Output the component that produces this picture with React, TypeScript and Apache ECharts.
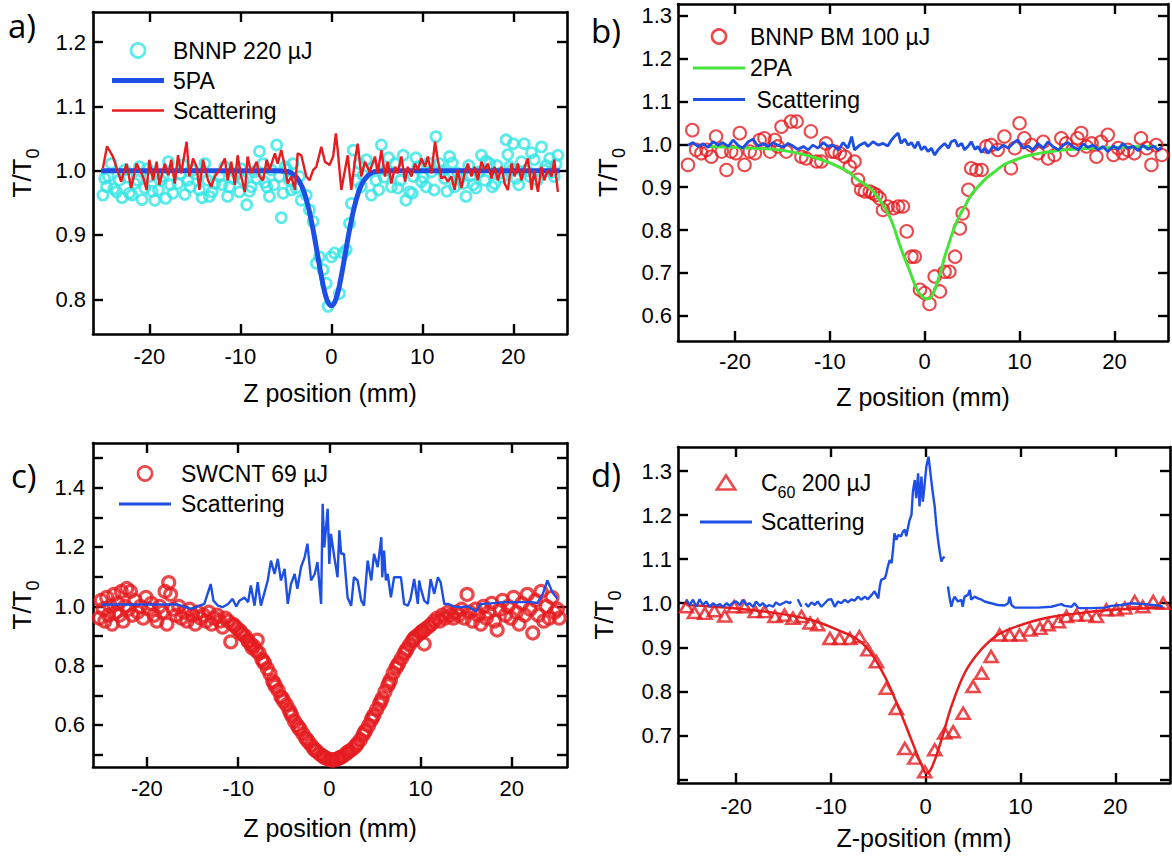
import React, { useEffect, useRef } from "react";
import * as echarts from "echarts";

const FONT = '"Liberation Sans", Arial, Helvetica, sans-serif';
const CYAN = "#33e5e5";
const BLUE = "#1d4fe4";
const RED = "#e61c1f";
const GREEN = "#46e33a";

// ---------- tick values ----------
const xTickValues = [-20, -10, 0, 10, 20];
const aYTickValues = [0.8, 0.9, 1.0, 1.1, 1.2];
const bYTickValues = [0.6, 0.7, 0.8, 0.9, 1.0, 1.1, 1.2, 1.3];
const cYTickValues = [0.5, 0.6, 0.7, 0.8, 0.9, 1.0, 1.1, 1.2, 1.3, 1.4, 1.5];
const cYLabelValues = [0.6, 0.8, 1.0, 1.2, 1.4];
const dYTickValues = [0.6, 0.7, 0.8, 0.9, 1.0, 1.1, 1.2, 1.3];
const dYLabelValues = [0.7, 0.8, 0.9, 1.0, 1.1, 1.2, 1.3];

// ---------- panel a ----------
const aBnnp: number[][] = [
  [-25.1,0.962],[-24.7,0.975],[-24.5,0.991],[-24.2,1.011],[-23.6,0.967],[-23.3,0.985],[-22.7,1.001],[-22.2,0.965],[-21.6,0.980],[-21.1,1.006],
  [-20.5,0.973],[-20.0,0.991],[-19.4,0.954],[-19.0,0.970],[-18.5,0.991],[-17.9,1.014],[-17.4,0.965],[-16.85,0.980],[-16.3,1.009],[-15.75,0.985],
  [-15.2,1.001],[-14.5,0.970],[-13.9,1.011],[-13.4,0.960],[-12.8,0.980],[-12.3,0.991],[-11.7,1.006],[-11.2,0.975],[-10.4,0.996],[-10.1,0.967],
  [-9.7,0.985],[-9.3,0.947],[-8.8,0.975],[-8.2,0.988],[-7.9,1.030],[-7.5,1.011],[-7.1,0.975],[-6.6,1.001],[-6.0,1.040],[-5.7,0.991],
  [-5.5,0.927],[-5.1,1.006],[-4.6,0.985],[-4.2,1.011],[-3.85,0.973],[-3.5,0.991],[-3.3,0.954],[-2.75,0.962],[-2.4,0.939],[-2.0,0.921],
  [-1.65,0.856],[-1.3,0.866],[-0.9,0.846],[-0.55,0.825],[-0.35,0.789],[0.0,0.866],[0.35,0.872],[0.9,0.809],[1.3,0.872],[1.65,0.877],
  [2.0,0.918],[2.2,0.949],[2.4,1.032],[2.75,0.985],[3.1,1.011],[3.5,0.993],[3.85,1.017],[4.4,0.962],[4.9,0.985],[5.5,1.040],
  [6.0,1.001],[6.6,0.975],[7.0,1.011],[7.3,0.973],[7.9,1.024],[8.2,0.954],[8.6,0.967],[9.0,0.991],[9.5,1.006],[9.9,0.983],
  [10.4,0.975],[11.0,0.998],[11.5,1.053],[11.9,1.011],[12.45,0.988],[13.0,1.022],[13.55,0.975],[13.9,0.996],[14.5,0.980],[14.8,0.960],
  [15.4,0.993],[15.9,0.973],[16.5,1.024],[16.85,0.985],[17.4,1.011],[17.95,0.980],[18.5,0.996],[19.2,1.048],[19.6,1.006],[20.0,1.042],
  [20.3,0.988],[20.9,1.014],[21.2,1.042],[21.8,0.991],[22.3,1.017],[23.1,1.037],[23.4,1.001],[24.0,1.019],[24.5,0.991],[24.9,1.024],
  [-24.9,0.988],[-23.9,0.972],[-23.0,0.958],[-22.4,0.990],[-21.9,0.962],[-21.3,0.985],[-20.8,0.955],[-20.2,1.003],[-19.7,0.968],[-18.8,0.985],
  [-18.2,0.957],[-17.7,0.978],[-16.6,0.995],[-16.1,0.963],[-15.5,0.975],[-14.9,0.995],[-14.2,0.958],[-13.6,0.985],[-13.1,0.967],[-12.0,0.978],
  [-11.4,0.960],[-10.8,0.988],[-9.9,1.003],[-9.0,0.968],[-8.5,0.998],[-7.3,0.982],[-6.8,0.960],[-6.3,0.978],[-5.3,0.965],[-4.9,1.002],
  [-4.4,0.970],[3.3,0.975],[4.6,1.005],[5.2,0.970],[5.8,0.990],[6.3,1.020],[7.6,0.985],[8.9,0.965],[9.3,1.020],[10.1,0.990],
  [10.7,1.012],[11.3,0.970],[12.2,1.000],[12.7,0.968],[13.3,1.012],[14.1,0.988],[15.1,1.008],[15.6,0.978],[16.2,0.998],[17.0,1.015],
  [17.7,0.975],[18.2,1.008],[18.8,0.990],[19.4,1.025],[19.9,1.002],[20.6,0.978],[21.5,1.000],[22.0,1.028],[22.6,0.985],[23.6,1.008],
  [24.2,0.998],[24.7,1.010],
];
const a5PA: number[][] = [
  [-25.3,1.0],[-6,1.0],[-5,0.999],[-4.5,0.997],[-4,0.992],[-3.5,0.983],[-3,0.967],[-2.5,0.942],[-2,0.908],[-1.5,0.868],
  [-1,0.829],[-0.5,0.8],[0,0.79],[0.5,0.8],[1,0.829],[1.5,0.868],[2,0.908],[2.5,0.942],[3,0.967],[3.5,0.983],
  [4,0.992],[4.5,0.997],[5,0.999],[6,1.0],[25.1,1.0],
];
const aScattering: number[][] = [
  [-25.1,1.004],[-24.65,1.038],[-24.0,1.022],[-23.1,0.983],[-22.5,1.011],[-22.0,0.973],[-21.4,1.011],[-20.7,0.991],[-20.3,0.970],[-20.0,1.017],
  [-19.6,0.985],[-19.2,1.014],[-18.9,0.978],[-18.3,1.011],[-17.9,0.993],[-17.6,1.017],[-17.2,0.980],[-16.85,1.024],[-16.5,0.996],[-15.9,1.045],
  [-15.6,0.991],[-15.2,1.019],[-14.8,1.006],[-14.5,0.970],[-14.1,1.017],[-13.55,0.985],[-13.2,0.975],[-12.8,0.991],[-12.3,1.001],[-11.7,1.019],
  [-11.4,0.985],[-11.0,1.014],[-10.6,0.978],[-10.3,1.024],[-9.9,0.991],[-9.5,0.967],[-9.2,1.022],[-8.8,0.996],[-8.2,1.014],[-7.9,0.991],
  [-7.5,0.985],[-7.1,1.017],[-6.8,1.001],[-6.2,1.027],[-5.9,1.011],[-5.5,1.032],[-5.1,1.006],[-4.8,0.980],[-4.4,0.991],[-4.0,0.970],
  [-3.7,1.027],[-3.3,1.024],[-2.75,0.991],[-2.4,0.985],[-2.0,1.001],[-1.65,1.006],[-1.1,1.037],[-0.7,1.014],[-0.2,1.009],[0.2,1.022],
  [0.5,1.058],[0.7,1.032],[1.1,0.970],[1.5,1.001],[1.8,1.024],[2.2,0.970],[2.6,1.017],[2.9,1.042],[3.3,0.991],[3.7,1.014],
  [4.2,0.998],[4.8,1.022],[5.1,0.996],[5.5,1.032],[5.9,0.991],[6.2,1.014],[6.6,0.980],[7.0,1.006],[7.3,0.996],[7.7,1.022],
  [8.1,0.983],[8.4,1.006],[8.8,0.991],[9.2,1.011],[9.5,1.001],[9.9,1.019],[10.3,1.006],[10.6,1.022],[11.0,0.996],[11.4,1.045],
  [11.7,1.017],[12.1,0.988],[12.45,0.991],[12.8,0.983],[13.2,0.991],[13.55,0.970],[13.9,1.001],[14.3,0.973],[14.65,0.996],[15.0,1.011],
  [15.4,0.991],[15.75,1.006],[16.1,0.985],[16.5,1.014],[16.85,1.001],[17.2,1.011],[17.6,0.988],[17.95,1.006],[18.3,0.985],[18.7,1.006],
  [19.05,0.980],[19.4,0.970],[19.8,1.011],[20.15,0.991],[20.5,1.011],[20.9,0.985],[21.25,1.006],[21.6,1.019],[22.0,0.970],[22.3,1.001],
  [22.7,0.967],[23.1,1.006],[23.4,0.985],[23.8,1.001],[24.2,0.991],[24.5,1.017],[24.9,0.967],
];

// ---------- panel b ----------
const bBnnpBm: number[][] = [
  [-24.96,0.952],[-24.5,1.033],[-24.1,0.987],[-23.55,0.979],[-23.0,0.987],[-22.5,0.971],[-22.0,1.018],[-21.4,0.983],[-20.9,0.940],[-20.4,0.983],
  [-19.9,0.979],[-19.5,1.026],[-19.0,0.952],[-18.45,0.983],[-17.9,0.979],[-17.4,1.010],[-16.9,1.014],[-16.3,0.983],[-15.8,1.010],[-15.5,0.995],
  [-15.1,1.041],[-14.6,0.983],[-14.1,1.053],[-13.5,1.053],[-13.0,0.971],[-12.5,0.967],[-12.0,1.030],[-11.4,0.960],[-10.9,0.960],[-10.4,1.002],
  [-9.8,0.983],[-9.5,0.983],[-8.96,0.979],[-8.4,0.971],[-7.9,0.948],[-7.4,0.960],[-7.03,0.917],[-6.7,0.894],[-6.3,0.890],[-5.8,0.890],
  [-5.45,0.886],[-5.1,0.882],[-4.75,0.874],[-4.4,0.847],[-3.9,0.855],[-3.3,0.851],[-2.8,0.855],[-2.3,0.855],[-1.9,0.797],[-1.4,0.738],
  [-1.05,0.738],[-0.5,0.661],[0.0,0.653],[0.5,0.628],[1.05,0.692],[1.6,0.657],[2.1,0.703],[2.6,0.703],[3.2,0.738],[3.7,0.804],
  [4.0,0.839],[4.6,0.894],[4.9,0.944],[5.45,0.940],[6.0,0.940],[6.5,0.995],[7.0,0.998],[7.7,0.987],[8.4,1.018],[9.1,0.944],
  [9.5,0.991],[10.0,1.049],[10.5,1.014],[11.25,0.998],[11.95,0.979],[12.5,1.006],[13.0,0.967],[13.7,0.975],[14.4,1.014],[14.9,1.002],
  [15.6,0.987],[16.1,1.014],[16.5,1.026],[17.05,0.995],[17.6,1.002],[18.1,0.971],[18.6,1.006],[19.3,1.022],[19.9,0.975],[20.4,0.991],
  [20.9,0.979],[21.4,0.987],[22.1,0.979],[22.8,1.014],[23.4,0.991],[23.9,0.952],[24.4,0.998],[25.0,0.975],
];
const b2PA: number[][] = [
  [-22.85,0.995],[-20,0.993],[-18,0.991],[-15.47,0.987],[-13.5,0.98],[-11.95,0.971],[-10.5,0.961],[-9.14,0.948],[-8,0.935],[-7.03,0.917],
  [-6,0.902],[-5.27,0.886],[-4.5,0.862],[-3.87,0.839],[-3.3,0.81],[-2.81,0.777],[-2.3,0.745],[-1.76,0.715],[-1.3,0.688],[-0.88,0.664],
  [-0.4,0.648],[0,0.641],[0.35,0.64],[0.7,0.645],[1.05,0.66],[1.41,0.684],[1.75,0.708],[2.11,0.738],[2.6,0.772],[3.16,0.808],
  [3.7,0.835],[4.22,0.855],[4.9,0.882],[5.62,0.901],[6.5,0.921],[7.38,0.936],[8.2,0.95],[9.14,0.96],[10.2,0.969],[11.25,0.975],
  [12.3,0.98],[13.36,0.983],[14.76,0.987],[18,0.991],[22,0.994],[24.5,0.995],
];
const bScattering: number[][] = [
  [-24.96,0.998],[-24.43,1.004],[-23.9,0.995],[-23.37,1.001],[-22.85,0.993],[-22.3,1.006],[-21.8,0.998],[-21.3,1.004],[-20.7,0.995],[-20.2,1.010],
  [-19.7,0.998],[-19.2,0.991],[-18.6,1.006],[-18.1,1.012],[-17.6,0.996],[-17.05,1.002],[-16.5,0.995],[-16.0,1.004],[-15.5,0.998],[-14.9,0.993],
  [-14.4,1.002],[-13.9,0.996],[-13.4,0.988],[-12.8,0.995],[-12.3,0.987],[-11.8,0.998],[-11.25,0.991],[-10.7,1.004],[-10.2,0.995],[-9.7,0.998],
  [-9.1,0.987],[-8.6,1.004],[-8.1,0.991],[-7.7,1.018],[-7.4,0.987],[-6.85,0.998],[-6.3,1.004],[-6.0,0.995],[-5.45,1.006],[-4.9,0.998],
  [-4.4,1.002],[-3.9,0.996],[-3.5,1.010],[-3.2,1.018],[-2.8,1.026],[-2.5,1.002],[-2.1,1.012],[-1.75,0.998],[-1.4,1.004],[-1.05,0.991],
  [-0.7,1.006],[-0.35,0.987],[0,0.995],[0.35,0.983],[0.7,0.991],[1.05,0.975],[1.4,0.987],[1.75,0.995],[2.1,1.002],[2.5,0.991],
  [2.8,1.006],[3.2,1.010],[3.5,0.995],[3.9,1.002],[4.2,0.987],[4.6,0.996],[4.9,1.006],[5.3,0.988],[5.6,0.995],[6.0,0.981],
  [6.3,0.991],[6.7,0.979],[7.2,0.995],[7.7,0.987],[8.3,0.998],[8.8,0.991],[9.3,1.002],[9.8,1.010],[10.4,0.991],[10.9,0.996],
  [11.4,0.987],[11.95,1.002],[12.5,0.991],[13.0,1.006],[13.5,0.995],[14.1,0.987],[14.6,0.998],[15.1,1.004],[15.6,0.995],[16.2,0.987],
  [16.7,1.001],[17.2,0.993],[17.75,0.998],[18.3,0.987],[18.8,0.995],[19.3,0.983],[19.9,0.996],[20.4,0.988],[20.9,1.002],[21.4,0.991],
  [22.0,0.995],[22.5,0.985],[23.0,0.998],[23.55,0.988],[24.1,0.996],[24.6,0.987],[24.96,0.993],
];

// ---------- panel c ----------
const cSwcnt: number[][] = [
  [-25.2,0.96],[-25.0,1.02],[-24.8,0.99],[-24.6,0.95],[-24.4,1.03],[-24.2,0.97],[-24.0,1.00],[-23.8,0.94],[-23.6,1.04],[-23.4,0.98],
  [-23.2,1.01],[-23.0,0.97],[-22.8,1.05],[-22.6,0.95],[-22.4,1.00],[-22.2,1.06],[-22.0,0.99],[-21.8,1.05],[-21.6,0.97],[-21.3,1.02],
  [-21.0,0.98],[-20.7,1.00],[-20.4,0.96],[-20.1,1.03],[-19.8,0.99],[-19.5,1.01],[-19.2,0.97],[-18.9,0.95],[-18.6,1.00],[-18.3,0.98],
  [-18.0,1.05],[-17.8,0.94],[-17.6,1.08],[-17.4,1.04],[-17.1,0.99],[-16.8,0.97],[-16.5,1.00],[-16.2,0.96],[-15.9,0.98],[-15.6,0.95],
  [-15.3,0.99],[-15.0,0.97],[-14.7,0.94],[-14.4,0.98],[-14.1,0.96],[-13.8,0.97],[-13.5,0.95],[-13.2,0.98],[-12.9,0.94],[-12.6,0.96],
  [-12.3,0.97],[-12.0,0.95],[-11.7,0.93],[-11.4,0.96],[-11.1,0.95],[-10.8,0.88],[-10.6,0.94],
  [-10.4,0.935],[-10.1,0.925],[-9.8,0.918],[-9.5,0.905],[-9.2,0.899],[-8.9,0.882],[-8.6,0.872],[-8.3,0.866],[-8.0,0.850],[-7.7,0.842],
  [-7.4,0.822],[-7.1,0.808],[-6.8,0.790],[-6.5,0.772],[-6.2,0.748],[-5.9,0.730],[-5.6,0.716],[-5.3,0.695],[-5.0,0.680],[-4.7,0.668],
  [-4.4,0.650],[-4.1,0.630],[-3.8,0.612],[-3.5,0.598],[-3.2,0.585],[-2.9,0.570],[-2.6,0.556],[-2.3,0.543],[-2.0,0.532],[-1.7,0.520],
  [-1.4,0.512],[-1.1,0.503],[-0.8,0.497],[-0.5,0.490],[-0.2,0.486],[0.1,0.483],[0.4,0.481],[0.7,0.483],[1.0,0.487],[1.3,0.491],
  [1.6,0.497],[1.9,0.505],[2.2,0.512],[2.5,0.518],[2.8,0.526],[3.1,0.538],[3.4,0.550],[3.7,0.566],[4.0,0.582],[4.3,0.598],
  [4.6,0.616],[4.9,0.634],[5.2,0.652],[5.5,0.670],[5.8,0.690],[6.1,0.712],[6.4,0.732],[6.7,0.752],[7.0,0.775],[7.3,0.792],
  [7.6,0.808],[7.9,0.824],[8.2,0.840],[8.5,0.856],[8.8,0.870],[9.1,0.884],[9.4,0.895],[9.7,0.903],[10.0,0.910],[10.3,0.918],
  [10.6,0.925],[10.9,0.932],
  [-9.65,0.91],[-8.45,0.86],[-7.25,0.815],[-6.05,0.74],[-5.15,0.69],[-4.25,0.64],[-3.35,0.59],[-2.45,0.55],[-1.55,0.515],[-0.65,0.493],
  [0.25,0.483],[1.15,0.49],[2.05,0.508],[2.95,0.532],[3.85,0.575],[4.75,0.626],[5.65,0.68],[6.55,0.742],[7.45,0.8],[8.35,0.848],
  [9.25,0.89],[10.15,0.915],[-8.9,0.884],[-7.9,0.886],[10.4,0.873],
  [11.2,0.94],[11.5,0.95],[11.8,0.96],[12.1,0.95],[12.4,0.97],[12.7,0.96],[13.0,0.98],[13.3,0.97],[13.6,0.96],[13.9,0.98],
  [14.2,0.97],[14.5,0.99],[14.8,0.96],[15.1,1.04],[15.4,0.98],[15.7,0.95],[16.0,0.99],[16.3,0.97],[16.6,0.94],[16.9,1.00],
  [17.2,0.96],[17.5,0.98],[17.8,1.01],[18.1,0.95],[18.4,0.92],[18.7,0.99],[19.0,1.02],[19.3,0.97],[19.6,1.00],[19.9,0.96],
  [20.2,1.03],[20.5,0.98],[20.8,0.94],[21.1,1.01],[21.4,0.97],[21.7,1.04],[22.0,0.99],[22.3,0.91],[22.6,1.02],[22.9,0.97],
  [23.2,1.05],[23.5,0.95],[23.8,1.00],[24.1,0.96],[24.4,1.03],[24.7,0.98],[25.0,0.99],[25.2,0.96],
];
const cScattering: number[][] = [
  [-25.0,1.006],[-16.6,1.006],[-15.15,0.991],[-13.7,1.008],[-13.0,1.075],[-12.7,1.019],[-12.2,1.002],[-11.7,0.997],[-11.1,1.008],[-10.6,1.025],
  [-10.2,0.999],[-9.85,1.019],[-9.3,1.030],[-8.9,1.014],[-8.6,1.070],[-8.2,1.002],[-7.85,1.081],[-7.5,1.002],[-7.1,1.047],[-6.75,1.087],
  [-6.4,1.154],[-6.0,1.109],[-5.65,1.160],[-5.3,1.087],[-4.9,1.126],[-4.55,1.008],[-4.2,1.075],[-3.8,1.109],[-3.5,1.059],[-3.1,1.132],
  [-2.7,1.166],[-2.4,1.211],[-2.0,1.087],[-1.6,1.109],[-1.3,1.149],[-0.9,1.008],[-0.73,1.346],[-0.55,1.199],[-0.18,1.329],[0.0,1.143],
  [0.18,1.244],[0.55,1.166],[0.9,1.098],[1.1,1.256],[1.3,1.177],[1.6,1.177],[2.0,1.030],[2.4,1.002],[2.7,1.098],[3.1,1.087],
  [3.5,1.019],[3.8,1.002],[4.2,1.154],[4.6,1.087],[4.9,1.177],[5.3,1.132],[5.7,1.233],[5.8,1.098],[6.0,1.188],[6.2,1.087],
  [6.4,1.109],[6.75,1.030],[7.1,1.098],[7.5,1.098],[7.85,1.098],[8.2,1.008],[8.6,1.002],[8.9,1.025],[9.3,1.092],[9.7,1.008],
  [9.85,1.087],[10.0,1.064],[10.4,1.019],[10.8,1.008],[11.1,1.092],[11.5,1.042],[11.9,1.098],[12.2,1.081],[12.6,1.008],[13.0,1.008],
  [13.7,0.999],[14.4,0.997],[15.15,1.000],[16.1,0.983],[16.6,1.008],[17.7,1.010],[19.2,1.014],[20.6,1.014],[22.1,1.014],[22.8,1.011],
  [23.4,1.042],[23.9,1.087],[24.45,1.047],[25.0,1.025],
];

// ---------- panel d ----------
const dC60: number[][] = [
  [-25.25,0.992],[-24.4,0.979],[-23.3,0.977],[-22.3,0.983],[-21.2,0.971],[-20.2,0.992],[-19.1,0.992],[-18.0,0.981],[-17.0,0.981],[-15.9,0.970],
  [-14.9,0.973],[-14.0,0.966],[-13.1,0.970],[-12.2,0.955],[-11.4,0.951],[-10.1,0.920],[-9.1,0.920],[-8.0,0.920],[-7.0,0.924],[-6.1,0.894],
  [-5.2,0.867],[-4.15,0.807],[-3.1,0.761],[-2.2,0.670],[-1.15,0.648],[-0.1,0.617],[0.95,0.667],[2.0,0.705],[2.9,0.708],[3.95,0.750],
  [5.0,0.811],[5.9,0.841],[6.9,0.879],[7.8,0.928],[8.85,0.928],[9.9,0.928],[11.0,0.939],[12.05,0.943],[12.9,0.951],[14.0,0.958],
  [14.85,0.970],[15.9,0.973],[16.95,0.973],[18.0,0.970],[19.05,0.985],[20.1,0.985],[21.0,0.989],[22.05,1.004],[22.9,0.992],[24.0,1.004],
  [25.05,1.000],
];
const dFit: number[][] = [
  [-25.25,0.996],[-20,0.988],[-15.6,0.977],[-12.05,0.962],[-9.25,0.939],[-7.15,0.917],[-5.75,0.886],[-4.3,0.833],[-2.9,0.765],[-1.5,0.689],
  [-0.45,0.633],[0.07,0.614],[0.6,0.625],[1.65,0.689],[2.7,0.765],[4.1,0.841],[5.5,0.886],[7.3,0.924],[9.05,0.943],[12.55,0.966],
  [16.1,0.977],[19.6,0.985],[25.2,0.989],
];
const dScattering: (number | null)[][] = [
  [-25.25,1.009],[-24.9,0.996],[-24.55,1.008],[-24.2,0.992],[-23.85,1.009],[-23.5,0.996],[-23.15,1.004],[-22.8,0.992],[-22.45,1.000],[-22.1,0.994],
  [-21.7,0.998],[-21.4,0.992],[-21.0,1.000],[-20.7,0.994],[-20.3,1.002],[-20.0,1.004],[-19.6,0.996],[-19.3,1.008],[-18.9,0.996],[-18.6,1.000],
  [-18.2,0.992],[-17.9,1.004],[-17.5,0.994],[-17.2,1.000],[-16.8,0.992],[-16.5,0.996],[-16.1,0.992],[-15.8,1.002],[-15.4,0.996],[-15.05,1.000],
  [-14.7,1.004],[-14.35,1.000],[-14.2,1.004],[-13.9,null],[-13.5,1.009],[-13.1,0.992],[-12.9,null],[-12.7,1.000],[-12.4,0.992],[-12.05,1.002],
  [-11.7,0.996],[-11.4,1.004],[-11.0,0.992],[-10.65,1.000],[-10.3,1.008],[-9.95,1.009],[-9.6,0.992],[-9.25,1.004],[-8.9,1.000],[-8.55,1.008],
  [-8.2,1.002],[-7.85,1.009],[-7.5,1.006],[-7.15,1.015],[-6.8,1.008],[-6.4,1.015],[-6.1,1.009],[-5.7,1.019],[-5.4,1.027],[-5.0,1.011],
  [-4.85,1.038],[-4.7,1.053],[-4.3,1.057],[-4.15,1.068],[-4.0,1.083],[-3.8,1.098],[-3.6,1.091],[-3.45,1.121],[-3.3,1.159],[-3.1,1.144],
  [-2.9,1.155],[-2.6,1.152],[-2.4,1.163],[-2.2,1.167],[-2.05,1.152],[-1.85,1.174],[-1.7,1.189],[-1.5,1.201],[-1.35,1.254],[-1.15,1.280],
  [-1.0,1.239],[-0.8,1.295],[-0.65,1.220],[-0.45,1.288],[-0.3,1.231],[-0.1,1.273],[0.07,1.311],[0.3,1.333],[0.5,1.295],[0.75,1.250],
  [0.95,1.220],[1.1,1.182],[1.3,1.144],[1.5,1.114],[1.65,1.095],[1.8,1.102],[2.0,1.106],[2.2,null],[2.35,1.038],[2.5,1.015],
  [2.7,0.992],[2.9,1.008],[3.05,1.015],[3.4,1.004],[3.75,1.008],[3.9,0.992],[4.1,1.015],[4.45,1.019],[4.65,1.030],[4.8,1.008],
  [5.15,1.015],[5.5,1.011],[5.9,1.008],[6.2,1.004],[6.9,1.000],[7.6,0.996],[8.3,0.995],[8.7,1.000],[8.85,1.015],[9.05,0.996],
  [9.4,0.990],[10.45,0.990],[11.85,0.990],[13.25,0.992],[14.3,0.998],[14.65,0.994],[15.4,0.992],[15.7,1.000],[16.1,0.989],[17.5,0.989],
  [18.9,0.990],[19.6,0.994],[20.6,0.996],[21.7,1.000],[23.1,0.998],[24.5,0.995],[25.0,0.992],
];

const legendText: Record<string, string> = {
  "Scattering a": "Scattering",
  "Scattering b": " Scattering",
  "Scattering c": "Scattering",
  "Scattering d": "Scattering",
  "C60 200 µJ": "{n|C}{s|60}{n| 200 µJ}",
};

type Panel = {
  grid: { left: number; top: number; width: number; height: number };
  x: [number, number];
  y: [number, number];
  yTicks: number[];
  yLabels: number[];
  xName: string;
  xNameGap: number;
  yNameGap: number;
  xLabelMargin: number;
  yLabelMargin: number;
};

const panels: Panel[] = [
  { grid: { left: 93, top: 12, width: 474, height: 322 }, x: [-26.19, 25.9], y: [0.746, 1.2468], yTicks: aYTickValues, yLabels: aYTickValues, xName: "Z position (mm)", xNameGap: 46, yNameGap: 58, xLabelMargin: 11, yLabelMargin: 7 },
  { grid: { left: 678, top: 4, width: 490, height: 337 }, x: [-26.01, 25.65], y: [0.5415, 1.327], yTicks: bYTickValues, yLabels: bYTickValues, xName: "Z position (mm)", xNameGap: 43, yNameGap: 57, xLabelMargin: 9, yLabelMargin: 6 },
  { grid: { left: 93, top: 443, width: 474, height: 324 }, x: [-25.9, 26.05], y: [0.4582, 1.5506], yTicks: cYTickValues, yLabels: cYLabelValues, xName: "Z position (mm)", xNameGap: 48, yNameGap: 58, xLabelMargin: 10, yLabelMargin: 8 },
  { grid: { left: 678, top: 447, width: 492, height: 336 }, x: [-26.13, 25.77], y: [0.5916, 1.355], yTicks: dYTickValues, yLabels: dYLabelValues, xName: "Z-position (mm)", xNameGap: 42, yNameGap: 61, xLabelMargin: 12, yLabelMargin: 6 },
];

const axisLineStyle = { color: "#000", width: 2.6 };
const tickOpt = (values: number[]) => ({
  show: true, inside: true, length: 10, lineStyle: { color: "#000", width: 2.4 }, customValues: values,
});

function buildOption() {
  const xAxis: any[] = [];
  const yAxis: any[] = [];
  panels.forEach((p, g) => {
    xAxis.push({
      type: "value", gridIndex: g, position: "bottom", min: p.x[0], max: p.x[1],
      axisLine: { show: true, onZero: false, lineStyle: axisLineStyle },
      axisTick: tickOpt(xTickValues),
      axisLabel: { show: true, customValues: xTickValues, margin: p.xLabelMargin, fontSize: 22, color: "#000", fontFamily: FONT },
      splitLine: { show: false },
      name: p.xName, nameLocation: "middle", nameGap: p.xNameGap,
      nameTextStyle: { fontSize: 25, color: "#000", fontFamily: FONT },
    });
    xAxis.push({
      type: "value", gridIndex: g, position: "top", min: p.x[0], max: p.x[1],
      axisLine: { show: true, onZero: false, lineStyle: axisLineStyle },
      axisTick: tickOpt(xTickValues), axisLabel: { show: false }, splitLine: { show: false },
    });
    yAxis.push({
      type: "value", gridIndex: g, position: "left", min: p.y[0], max: p.y[1],
      axisLine: { show: true, onZero: false, lineStyle: axisLineStyle },
      axisTick: tickOpt(p.yTicks),
      axisLabel: { show: true, customValues: p.yLabels, margin: p.yLabelMargin, fontSize: 22, color: "#000", fontFamily: FONT, formatter: (v: number) => v.toFixed(1) },
      splitLine: { show: false },
      name: "{t|T/T}{s|0}", nameLocation: "middle", nameRotate: 90, nameGap: p.yNameGap,
      nameTextStyle: {
        fontSize: 26, lineHeight: 26, color: "#000", fontFamily: FONT,
        rich: { t: { fontSize: 26, fontFamily: FONT, color: "#000" }, s: { fontSize: 18, fontFamily: FONT, color: "#000", padding: [22, 0, 0, 0] } },
      },
    });
    yAxis.push({
      type: "value", gridIndex: g, position: "right", min: p.y[0], max: p.y[1],
      axisLine: { show: true, onZero: false, lineStyle: axisLineStyle },
      axisTick: tickOpt(p.yTicks), axisLabel: { show: false }, splitLine: { show: false },
    });
  });

  const scatter = (name: string, g: number, data: any[], color: string, size: any, bw: number, symbol = "circle") => ({
    type: "scatter", name, xAxisIndex: 2 * g, yAxisIndex: 2 * g, data, symbol, symbolSize: size, silent: true,
    itemStyle: { color: "rgba(0,0,0,0)", borderColor: color, borderWidth: bw },
  });
  const line = (name: string, g: number, data: any[], color: string, width: number, smooth: boolean | number = false) => ({
    type: "line", name, xAxisIndex: 2 * g, yAxisIndex: 2 * g, data, symbol: "none", showSymbol: false, smooth, silent: true,
    lineStyle: { color, width }, itemStyle: { color }, connectNulls: false,
  });

  const series: any[] = [
    scatter("BNNP 220 µJ", 0, aBnnp, CYAN, 10, 2.8),
    line("5PA", 0, a5PA, BLUE, 5, 0.4),
    line("Scattering a", 0, aScattering, RED, 2.4),
    scatter("BNNP BM 100 µJ", 1, bBnnpBm, RED, 12.5, 2),
    line("2PA", 1, b2PA, GREEN, 3, 0.4),
    line("Scattering b", 1, bScattering, BLUE, 2.8),
    scatter("SWCNT 69 µJ", 2, cSwcnt, RED, 12, 3.2),
    line("Scattering c", 2, cScattering, BLUE, 2.4),
    scatter("C60 200 µJ", 3, dC60, RED, [13, 11], 2.6, "triangle"),
    line("C60 fit", 3, dFit, RED, 2.5, 0.4),
    line("Scattering d", 3, dScattering, BLUE, 2.4),
  ];

  const legendBase = (left: number, top: number, itemGap: number, padLeft: number, data: any[]) => ({
    left, top, orient: "vertical", itemWidth: 52, itemHeight: 14, itemGap, selectedMode: false,
    symbolKeepAspect: true, padding: 0,
    formatter: (n: string) => legendText[n] ?? n,
    textStyle: {
      fontSize: 23, lineHeight: 22, color: "#000", fontFamily: FONT, padding: [0, 0, 0, padLeft],
      rich: { n: { fontSize: 23, fontFamily: FONT, color: "#000" }, s: { fontSize: 16, fontFamily: FONT, color: "#000", padding: [20, 0, 0, 0] } },
    },
    data,
  });
  const hollow = (name: string, color: string, icon = "circle") => ({
    name, icon, itemStyle: { color: "rgba(0,0,0,0)", borderColor: color, borderWidth: 2.6 },
  });
  const bar = (name: string, color: string, thick: number) => ({
    name, icon: `path://M0,0H52V${thick}H0Z`, itemStyle: { color, borderWidth: 0 },
  });

  const legend = [
    legendBase(112, 39, 7, 4, [hollow("BNNP 220 µJ", CYAN), bar("5PA", BLUE, 5), bar("Scattering a", RED, 2.6)]),
    legendBase(693, 25, 8.5, 0, [hollow("BNNP BM 100 µJ", RED), bar("2PA", GREEN, 3), bar("Scattering b", BLUE, 3)]),
    legendBase(119, 462, 7.4, 5, [hollow("SWCNT 69 µJ", RED), bar("Scattering c", BLUE, 3)]),
    legendBase(700, 471, 10, 4, [hollow("C60 200 µJ", RED, "path://M0,13L8.5,0L17,13Z"), bar("Scattering d", BLUE, 3)]),
  ];

  const labelStyle = { fontSize: 33, fontFamily: '"Open Sans", "Noto Sans", sans-serif', fontWeight: "normal", color: "#000" };
  const title = [
    { text: "a)", left: 8, top: 9, textStyle: labelStyle, padding: 0 },
    { text: "b)", left: 591, top: 14, textStyle: labelStyle, padding: 0 },
    { text: "c)", left: 11, top: 459, textStyle: labelStyle, padding: 0 },
    { text: "d)", left: 591, top: 458, textStyle: labelStyle, padding: 0 },
  ];

  return {
    animation: false,
    backgroundColor: "#fff",
    textStyle: { fontFamily: FONT },
    title,
    grid: panels.map((p) => ({ ...p.grid, containLabel: false })),
    xAxis,
    yAxis,
    legend,
    series,
  };
}

export default function App() {
  const ref = useRef<HTMLDivElement>(null);
  useEffect(() => {
    if (!ref.current) return;
    const chart = echarts.init(ref.current, undefined, { renderer: "svg" });
    chart.setOption(buildOption() as any);
    return () => chart.dispose();
  }, []);
  return <div ref={ref} style={{ position: "fixed", left: 0, top: 0, width: 1172, height: 865, background: "#fff" }} />;
}
